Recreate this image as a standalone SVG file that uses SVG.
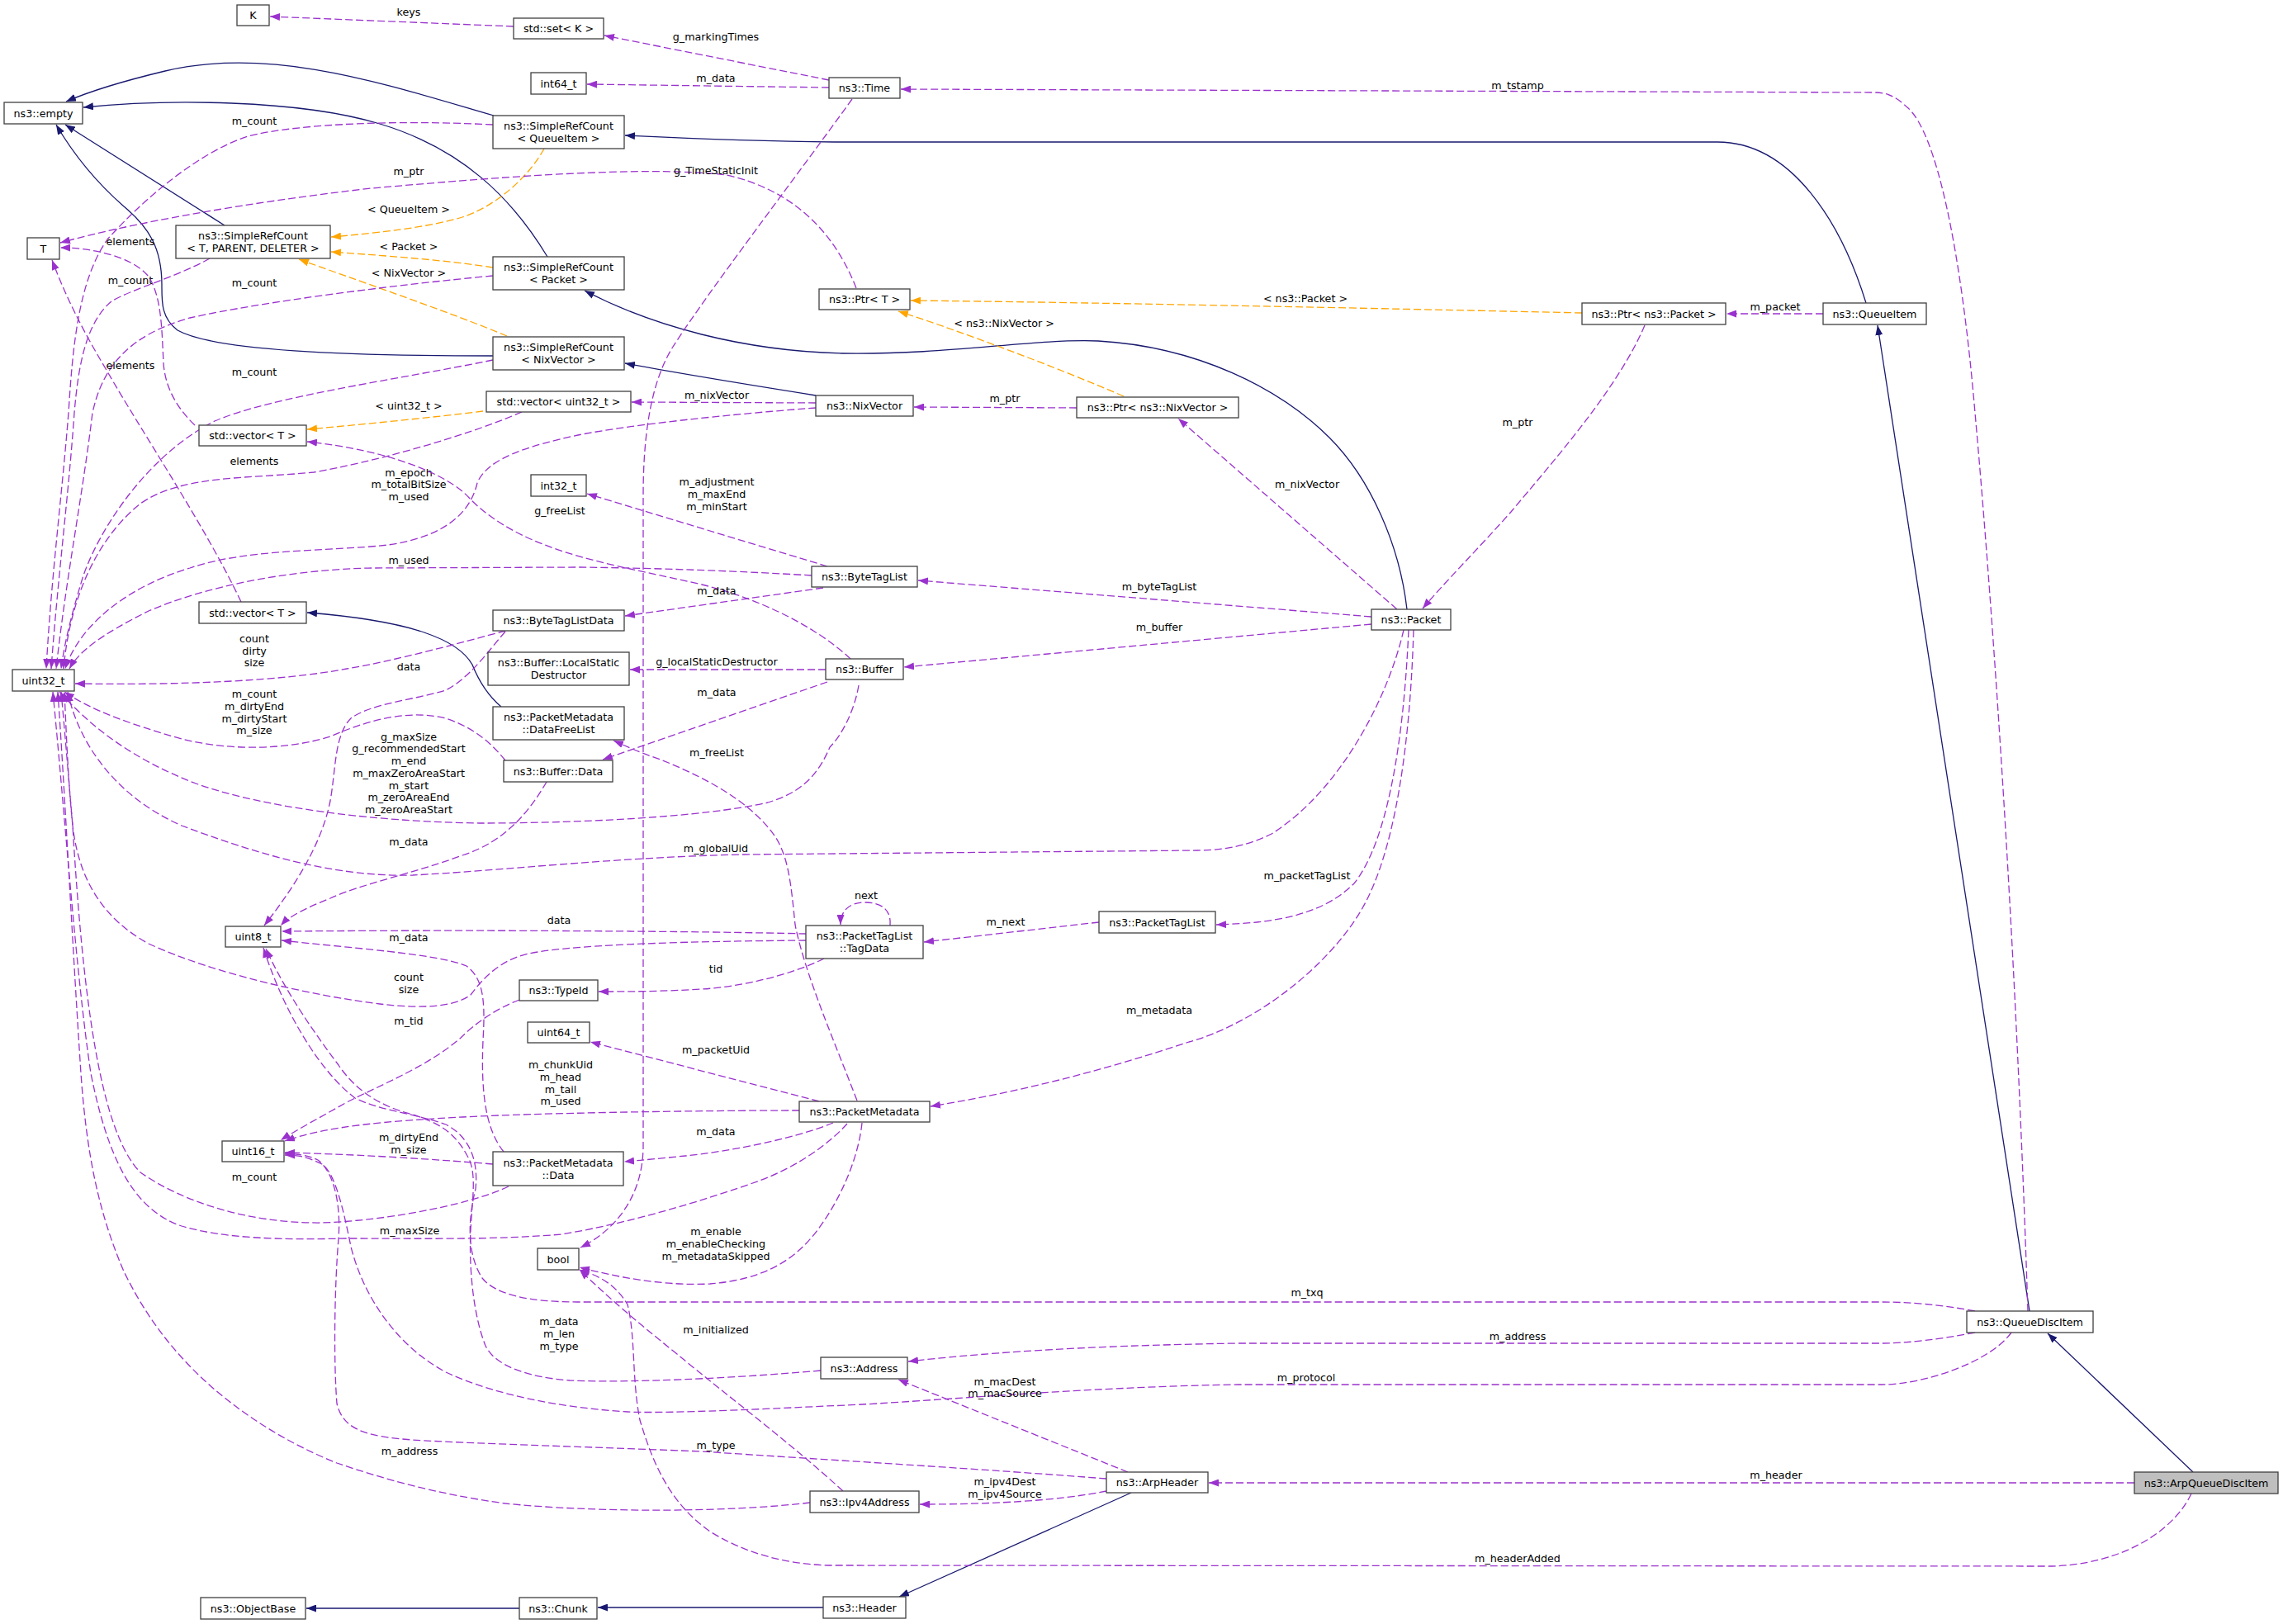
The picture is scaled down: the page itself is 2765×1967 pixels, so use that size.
<svg xmlns="http://www.w3.org/2000/svg" width="2765" height="1967" viewBox="0 0 2765 1967">
<style>
.n rect{fill:#ffffff;stroke:#404040;stroke-width:1.3}
.n.hl rect{fill:#bfbfbf}
text{font-family:"DejaVu Sans","Liberation Sans",sans-serif;font-size:12.7px;fill:#000;text-anchor:middle}
.e path{fill:none;stroke-width:1.3}
.inh path{stroke:#191970;marker-end:url(#an)}
.tpl path{stroke:#ffa500;stroke-dasharray:9,4;marker-end:url(#ao)}
.mem path{stroke:#9a32cd;stroke-dasharray:9,4;marker-end:url(#ap)}
</style>
<defs>
<marker id="an" markerWidth="12" markerHeight="9" refX="12" refY="4.5" orient="auto" markerUnits="userSpaceOnUse"><path d="M0,0 L12,4.5 L0,9 z" fill="#191970" stroke="none"/></marker>
<marker id="ao" markerWidth="12" markerHeight="9" refX="12" refY="4.5" orient="auto" markerUnits="userSpaceOnUse"><path d="M0,0 L12,4.5 L0,9 z" fill="#ffa500" stroke="none"/></marker>
<marker id="ap" markerWidth="12" markerHeight="9" refX="12" refY="4.5" orient="auto" markerUnits="userSpaceOnUse"><path d="M0,0 L12,4.5 L0,9 z" fill="#9a32cd" stroke="none"/></marker>
</defs>
<rect x="0" y="0" width="2765" height="1967" fill="#ffffff"/>
<g id="connectors">
<g class="e inh">
<path d="M598,140 C470,103 330,55 200,86 C150,98 110,110 80,123"/>
<path d="M272,273 L79,151"/>
<path d="M663,311 C620,240 560,180 460,150 C360,120 200,120 101,130"/>
<path d="M597,431 C420,431 260,425 215,400 C195,385 196,365 196,345 C196,300 180,275 150,250 C110,215 85,180 68,151"/>
<path d="M2260,367 C2230,270 2170,172 2080,172 L1010,172 C900,171 820,167 757,164"/>
<path d="M1704,738 C1695,660 1660,580 1610,530 C1550,470 1450,420 1330,413 C1250,410 1150,430 1020,428 C900,425 790,395 708,352"/>
<path d="M988,479 C900,465 820,452 757,440"/>
<path d="M607,856 C588,840 578,820 572,805 C555,775 500,752 372,742"/>
<path d="M2458,1588 L2274,394"/>
<path d="M2656,1783 L2480,1615"/>
<path d="M1370,1808 L1089,1934"/>
<path d="M997,1947 L724,1947"/>
<path d="M629,1948 L371,1948"/>
</g>
<g class="e tpl">
<path d="M659,180 C640,215 600,250 560,263 C520,275 460,282 401,287"/><text x="495" y="258">&lt; QueueItem &gt;</text>
<path d="M597,324 C540,315 470,310 401,305"/><text x="495" y="303">&lt; Packet &gt;</text>
<path d="M614,407 C550,380 420,335 362,314"/><text x="495" y="335">&lt; NixVector &gt;</text>
<path d="M585,498 C520,506 440,514 372,520"/><text x="495" y="496">&lt; uint32_t &gt;</text>
<path d="M1916,379 C1600,372 1300,366 1103,364"/><text x="1581" y="366">&lt; ns3::Packet &gt;</text>
<path d="M1361,480 C1280,445 1160,400 1088,377"/><text x="1216" y="396">&lt; ns3::NixVector &gt;</text>
</g>
<g class="e mem">
<path d="M622,32 L327,20"/><text x="495" y="19">keys</text>
<path d="M1004,97 L732,43"/><text x="867" y="49">g_markingTimes</text>
<path d="M1004,106 L711,102"/><text x="867" y="99">m_data</text>
<path d="M2456,1588 C2440,1100 2410,700 2392,500 C2375,300 2345,160 2310,130 C2295,116 2285,112 2270,112 L1091,108"/><text x="1838" y="108">m_tstamp</text>
<path d="M2208,380 L2091,380"/><text x="2150" y="376">m_packet</text>
<path d="M1992,394 C1960,470 1880,560 1830,620 C1790,665 1750,705 1723,737"/><text x="1838" y="516">m_ptr</text>
<path d="M1692,738 L1427,507"/><text x="1583" y="591">m_nixVector</text>
<path d="M1037,349 C1010,280 960,230 880,212 C780,200 600,215 450,228 C300,245 160,270 73,294"/><text x="495" y="212">m_ptr</text>
<path d="M1032,120 C960,220 860,350 815,420 C790,460 779,520 779,600 L779,1390 C778,1450 745,1490 703,1511"/><text x="867" y="211">g_TimeStaticInit</text>
<path d="M597,151 C480,145 360,150 300,165 C240,185 175,240 130,290 C95,340 88,420 83,500 C75,600 62,700 56,810"/><text x="308" y="151">m_count</text>
<path d="M254,313 C215,335 160,350 135,365 C105,390 95,440 90,500 C83,600 70,700 62,810"/><text x="158" y="344">m_count</text>
<path d="M597,334 C480,345 320,365 230,385 C160,405 125,440 112,500 C100,600 80,700 68,810"/><text x="308" y="347">m_count</text>
<path d="M597,436 C480,460 330,480 260,510 C180,550 120,640 100,700 C85,750 78,780 74,810"/><text x="308" y="455">m_count</text>
<path d="M236,515 C215,495 200,470 198,440 C196,400 196,360 180,335 C160,310 110,300 73,300"/><text x="158" y="297">elements</text>
<path d="M292,729 C250,640 170,520 130,450 C100,400 80,360 63,315"/><text x="158" y="447">elements</text>
<path d="M632,499 C560,530 450,560 380,572 C300,580 220,575 170,610 C120,650 85,720 77,810"/><text x="308" y="563">elements</text>
<path d="M988,488 L765,487"/><text x="868" y="483">m_nixVector</text>
<path d="M988,494 C880,502 760,515 700,527 C640,540 590,555 578,585 C570,620 540,650 470,660 C400,668 300,664 230,688 C150,712 95,760 79,810"/><text x="495" y="577">m_epoch</text><text x="495" y="591">m_totalBitSize</text><text x="495" y="606">m_used</text>
<path d="M1304,494 L1107,493"/><text x="1217" y="487">m_ptr</text>
<path d="M1002,686 L711,598"/><text x="868" y="588">m_adjustment</text><text x="868" y="603">m_maxEnd</text><text x="868" y="618">m_minStart</text>
<path d="M983,697 C900,692 800,688 700,687 L450,688 C350,690 250,710 180,740 C120,770 95,790 84,810"/><text x="495" y="683">m_used</text>
<path d="M1030,798 C990,760 920,725 850,708 C780,692 710,680 660,660 C620,645 590,625 570,605 C545,575 470,545 372,535"/><text x="678" y="623">g_freeList</text>
<path d="M997,712 L757,746"/><text x="868" y="720">m_data</text>
<path d="M612,764 C560,778 480,800 420,810 C340,825 220,830 91,828"/><text x="308" y="778">count</text><text x="308" y="793">dirty</text><text x="308" y="807">size</text>
<path d="M1661,747 L1112,703"/><text x="1404" y="715">m_byteTagList</text>
<path d="M1661,756 L1095,808"/><text x="1404" y="764">m_buffer</text>
<path d="M1000,811 L763,811"/><text x="868" y="806">g_localStaticDestructor</text>
<path d="M1002,826 L730,920"/><text x="868" y="843">m_data</text>
<path d="M612,921 C595,900 575,882 540,870 C490,858 440,875 400,892 C350,908 280,910 220,895 C160,878 110,860 78,838"/><text x="308" y="845">m_count</text><text x="308" y="860">m_dirtyEnd</text><text x="308" y="875">m_dirtyStart</text><text x="308" y="889">m_size</text>
<path d="M1040,830 C1035,860 1020,890 1005,905 C990,940 970,960 930,972 C850,990 700,997 580,997 C450,995 320,978 240,950 C160,920 110,880 72,838"/><text x="495" y="897">g_maxSize</text><text x="495" y="911">g_recommendedStart</text><text x="495" y="926">m_end</text><text x="495" y="941">m_maxZeroAreaStart</text><text x="495" y="956">m_start</text><text x="495" y="970">m_zeroAreaEnd</text><text x="495" y="985">m_zeroAreaStart</text>
<path d="M612,765 C590,790 570,820 540,836 C500,848 450,852 425,870 C405,890 407,930 400,970 C390,1020 360,1070 320,1121"/><text x="495" y="812">data</text>
<path d="M662,947 C640,985 610,1020 560,1036 C500,1058 440,1070 400,1088 C370,1100 350,1110 340,1121"/><text x="495" y="1024">m_data</text>
<path d="M1700,763 C1680,850 1620,960 1540,1010 C1510,1025 1480,1030 1450,1030 L900,1035 C750,1038 600,1055 500,1060 C400,1063 300,1030 220,1000 C140,965 95,900 82,838"/><text x="867" y="1032">m_globalUid</text>
<path d="M1706,763 C1700,900 1680,1020 1640,1070 C1600,1110 1540,1118 1473,1120"/><text x="1583" y="1065">m_packetTagList</text>
<path d="M1712,763 C1708,900 1690,1030 1650,1100 C1610,1170 1520,1240 1440,1262 C1340,1295 1240,1322 1127,1340"/><text x="1404" y="1228">m_metadata</text>
<path d="M1038,1333 C1010,1260 975,1180 963,1120 C958,1070 955,1040 940,1015 C910,970 850,940 800,920 C770,910 755,902 743,897"/><text x="868" y="916">m_freeList</text>
<path d="M1331,1117 L1119,1141"/><text x="1218" y="1121">m_next</text>
<path d="M1078,1121 C1080,1098 1062,1093 1048,1093 C1032,1093 1018,1100 1018,1120"/><text x="1049" y="1089">next</text>
<path d="M976,1131 C850,1128 600,1126 341,1128"/><text x="677" y="1119">data</text>
<path d="M976,1139 C850,1140 700,1143 640,1155 C605,1163 585,1185 570,1205 C550,1220 510,1222 460,1216 C380,1206 260,1180 180,1143 C120,1110 95,1060 88,1000 C82,940 80,880 78,838"/><text x="495" y="1188">count</text><text x="495" y="1203">size</text>
<path d="M998,1161 C960,1180 900,1195 850,1198 C800,1201 760,1201 725,1201"/><text x="867" y="1178">tid</text>
<path d="M629,1211 C600,1222 575,1240 558,1257 C520,1290 470,1310 420,1335 C385,1355 360,1368 340,1381"/><text x="495" y="1241">m_tid</text>
<path d="M992,1334 L715,1262"/><text x="867" y="1276">m_packetUid</text>
<path d="M968,1345 C850,1345 650,1348 560,1353 C470,1358 400,1363 345,1382"/><text x="679" y="1294">m_chunkUid</text><text x="679" y="1309">m_head</text><text x="679" y="1324">m_tail</text><text x="679" y="1338">m_used</text>
<path d="M1009,1360 C960,1380 880,1395 830,1400 C800,1403 780,1405 756,1407"/><text x="867" y="1375">m_data</text>
<path d="M597,1410 C500,1402 420,1398 345,1396"/><text x="495" y="1382">m_dirtyEnd</text><text x="495" y="1397">m_size</text>
<path d="M610,1395 C590,1370 582,1330 585,1260 C588,1210 585,1185 565,1170 C530,1155 420,1148 341,1139"/><text x="495" y="1140">m_data</text>
<path d="M616,1437 C580,1455 480,1478 390,1481 C300,1482 220,1455 170,1420 C120,1370 100,1200 88,1000 C82,930 78,880 74,838"/><text x="308" y="1430">m_count</text>
<path d="M1026,1361 C1000,1390 960,1415 920,1430 C850,1455 760,1482 680,1495 C600,1502 500,1500 420,1500 C340,1502 270,1500 220,1485 C160,1465 130,1400 110,1300 C92,1180 78,980 64,838"/><text x="496" y="1495">m_maxSize</text>
<path d="M1044,1360 C1040,1400 1020,1450 990,1490 C960,1530 920,1550 860,1555 C800,1558 740,1545 702,1535"/><text x="867" y="1496">m_enable</text><text x="867" y="1511">m_enableChecking</text><text x="867" y="1526">m_metadataSkipped</text>
<path d="M2392,1588 C2350,1580 2310,1577 2279,1577 L700,1577 C640,1577 600,1568 584,1548 C566,1520 566,1480 576,1440 C580,1400 565,1375 540,1362 C500,1348 460,1345 430,1330 C390,1300 345,1230 319,1148"/><text x="1583" y="1570">m_txq</text>
<path d="M2392,1614 C2350,1622 2310,1627 2279,1627 L1500,1627 C1300,1630 1180,1640 1100,1649"/><text x="1838" y="1623">m_address</text>
<path d="M2436,1614 C2410,1650 2330,1677 2279,1677 L1500,1677 C1300,1680 1100,1700 1000,1703 C900,1708 800,1712 760,1710 C680,1705 600,1690 540,1662 C480,1630 440,1570 425,1510 C415,1460 405,1420 390,1410 C370,1400 358,1399 345,1399"/><text x="1582" y="1673">m_protocol</text>
<path d="M1366,1783 L1088,1671"/><text x="1217" y="1678">m_macDest</text><text x="1217" y="1692">m_macSource</text>
<path d="M1340,1791 C1200,1780 1000,1768 850,1758 C700,1752 560,1748 500,1744 C440,1740 415,1730 408,1700 C404,1650 405,1560 410,1500 C413,1460 405,1420 385,1405 C370,1398 358,1398 345,1397"/><text x="867" y="1755">m_type</text>
<path d="M1340,1806 C1280,1818 1200,1822 1114,1822"/><text x="1217" y="1799">m_ipv4Dest</text><text x="1217" y="1814">m_ipv4Source</text>
<path d="M1021,1806 C960,1750 880,1690 820,1640 C770,1600 735,1570 702,1538"/><text x="867" y="1615">m_initialized</text>
<path d="M2654,1809 C2630,1860 2560,1897 2479,1897 L1006,1896 C950,1895 900,1880 860,1855 C810,1820 790,1770 775,1720 C765,1670 770,1620 760,1580 C745,1555 725,1545 702,1538"/><text x="1838" y="1892">m_headerAdded</text>
<path d="M2585,1796 L1464,1796"/><text x="2151" y="1791">m_header</text>
<path d="M981,1820 C880,1832 720,1832 612,1821 C530,1810 460,1790 408,1772 C340,1745 270,1700 219,1643 C180,1600 160,1560 150,1540 C120,1470 105,1400 98,1300 C88,1150 78,950 70,838"/><text x="496" y="1762">m_address</text>
<path d="M994,1660 C880,1670 760,1675 690,1672 C640,1668 600,1655 588,1630 C572,1590 568,1530 570,1490 C572,1450 578,1420 566,1400 C550,1370 530,1360 500,1350 C460,1340 430,1320 410,1290 C380,1250 345,1200 322,1149"/><text x="677" y="1605">m_data</text><text x="677" y="1620">m_len</text><text x="677" y="1635">m_type</text>
</g>
</g>
<g id="nodes">
<g id="n_K" class="n"><rect x="287" y="6" width="39" height="25"/><text x="306.5" y="23">K</text></g>
<g id="n_setK" class="n"><rect x="622" y="22" width="109" height="25"/><text x="676.5" y="39">std::set&lt; K &gt;</text></g>
<g id="n_int64" class="n"><rect x="643" y="88" width="67" height="26"/><text x="676.5" y="105.5">int64_t</text></g>
<g id="n_Time" class="n"><rect x="1004" y="94" width="86" height="25"/><text x="1047" y="111">ns3::Time</text></g>
<g id="n_empty" class="n"><rect x="5" y="124" width="95" height="26"/><text x="52.5" y="141.5">ns3::empty</text></g>
<g id="n_srcQI" class="n"><rect x="597" y="140" width="159" height="40"/><text x="676.5" y="157">ns3::SimpleRefCount</text><text x="676.5" y="172">&lt; QueueItem &gt;</text></g>
<g id="n_T" class="n"><rect x="33" y="288" width="39" height="26"/><text x="52.5" y="305.5">T</text></g>
<g id="n_srcTPD" class="n"><rect x="213" y="273" width="187" height="40"/><text x="306.5" y="290">ns3::SimpleRefCount</text><text x="306.5" y="305">&lt; T, PARENT, DELETER &gt;</text></g>
<g id="n_srcPk" class="n"><rect x="597" y="311" width="159" height="40"/><text x="676.5" y="328">ns3::SimpleRefCount</text><text x="676.5" y="343">&lt; Packet &gt;</text></g>
<g id="n_PtrT" class="n"><rect x="992" y="350" width="110" height="25"/><text x="1047" y="367">ns3::Ptr&lt; T &gt;</text></g>
<g id="n_PtrPk" class="n"><rect x="1916" y="367" width="174" height="26"/><text x="2003" y="384.5">ns3::Ptr&lt; ns3::Packet &gt;</text></g>
<g id="n_QI" class="n"><rect x="2208" y="367" width="125" height="26"/><text x="2270.5" y="384.5">ns3::QueueItem</text></g>
<g id="n_srcNV" class="n"><rect x="597" y="408" width="159" height="40"/><text x="676.5" y="425">ns3::SimpleRefCount</text><text x="676.5" y="440">&lt; NixVector &gt;</text></g>
<g id="n_vecU32" class="n"><rect x="589" y="474" width="175" height="25"/><text x="676.5" y="491">std::vector&lt; uint32_t &gt;</text></g>
<g id="n_NV" class="n"><rect x="988" y="479" width="118" height="25"/><text x="1047" y="496">ns3::NixVector</text></g>
<g id="n_PtrNV" class="n"><rect x="1304" y="481" width="196" height="25"/><text x="1402" y="498">ns3::Ptr&lt; ns3::NixVector &gt;</text></g>
<g id="n_vecT1" class="n"><rect x="241" y="515" width="130" height="25"/><text x="306" y="532">std::vector&lt; T &gt;</text></g>
<g id="n_int32" class="n"><rect x="643" y="575" width="67" height="26"/><text x="676.5" y="592.5">int32_t</text></g>
<g id="n_BTL" class="n"><rect x="983" y="686" width="128" height="25"/><text x="1047" y="703">ns3::ByteTagList</text></g>
<g id="n_vecT2" class="n"><rect x="241" y="729" width="130" height="26"/><text x="306" y="746.5">std::vector&lt; T &gt;</text></g>
<g id="n_Packet" class="n"><rect x="1661" y="738" width="96" height="25"/><text x="1709" y="755">ns3::Packet</text></g>
<g id="n_BTLD" class="n"><rect x="597" y="739" width="159" height="25"/><text x="676.5" y="756">ns3::ByteTagListData</text></g>
<g id="n_LSD" class="n"><rect x="591" y="790" width="171" height="40"/><text x="676.5" y="807">ns3::Buffer::LocalStatic</text><text x="676.5" y="822">Destructor</text></g>
<g id="n_Buffer" class="n"><rect x="1000" y="798" width="94" height="25"/><text x="1047" y="815">ns3::Buffer</text></g>
<g id="n_u32" class="n"><rect x="15" y="811" width="75" height="26"/><text x="52.5" y="828.5">uint32_t</text></g>
<g id="n_DFL" class="n"><rect x="597" y="856" width="159" height="40"/><text x="676.5" y="873">ns3::PacketMetadata</text><text x="676.5" y="888">::DataFreeList</text></g>
<g id="n_BufData" class="n"><rect x="610" y="921" width="132" height="26"/><text x="676" y="938.5">ns3::Buffer::Data</text></g>
<g id="n_PTL" class="n"><rect x="1331" y="1104" width="141" height="26"/><text x="1401.5" y="1121.5">ns3::PacketTagList</text></g>
<g id="n_TagData" class="n"><rect x="976" y="1121" width="142" height="40"/><text x="1047" y="1138">ns3::PacketTagList</text><text x="1047" y="1153">::TagData</text></g>
<g id="n_u8" class="n"><rect x="273" y="1122" width="67" height="25"/><text x="306.5" y="1139">uint8_t</text></g>
<g id="n_TypeId" class="n"><rect x="629" y="1187" width="95" height="25"/><text x="676.5" y="1204">ns3::TypeId</text></g>
<g id="n_u64" class="n"><rect x="639" y="1238" width="75" height="25"/><text x="676.5" y="1255">uint64_t</text></g>
<g id="n_PM" class="n"><rect x="968" y="1334" width="158" height="25"/><text x="1047" y="1351">ns3::PacketMetadata</text></g>
<g id="n_u16" class="n"><rect x="269" y="1382" width="75" height="25"/><text x="306.5" y="1399">uint16_t</text></g>
<g id="n_PMData" class="n"><rect x="597" y="1395" width="158" height="41"/><text x="676" y="1412.5">ns3::PacketMetadata</text><text x="676" y="1427.5">::Data</text></g>
<g id="n_bool" class="n"><rect x="651" y="1512" width="50" height="26"/><text x="676" y="1529.5">bool</text></g>
<g id="n_QDI" class="n"><rect x="2382" y="1588" width="153" height="26"/><text x="2458.5" y="1605.5">ns3::QueueDiscItem</text></g>
<g id="n_Address" class="n"><rect x="994" y="1644" width="105" height="26"/><text x="1046.5" y="1661.5">ns3::Address</text></g>
<g id="n_ArpHeader" class="n"><rect x="1340" y="1783" width="123" height="25"/><text x="1401.5" y="1800">ns3::ArpHeader</text></g>
<g id="n_AQDI" class="n hl"><rect x="2585" y="1783" width="174" height="26"/><text x="2672" y="1800.5">ns3::ArpQueueDiscItem</text></g>
<g id="n_Ipv4" class="n"><rect x="981" y="1806" width="132" height="26"/><text x="1047" y="1823.5">ns3::Ipv4Address</text></g>
<g id="n_ObjectBase" class="n"><rect x="243" y="1935" width="127" height="26"/><text x="306.5" y="1952.5">ns3::ObjectBase</text></g>
<g id="n_Chunk" class="n"><rect x="629" y="1935" width="94" height="26"/><text x="676" y="1952.5">ns3::Chunk</text></g>
<g id="n_Header" class="n"><rect x="997" y="1934" width="100" height="26"/><text x="1047" y="1951.5">ns3::Header</text></g>
</g>
</svg>
